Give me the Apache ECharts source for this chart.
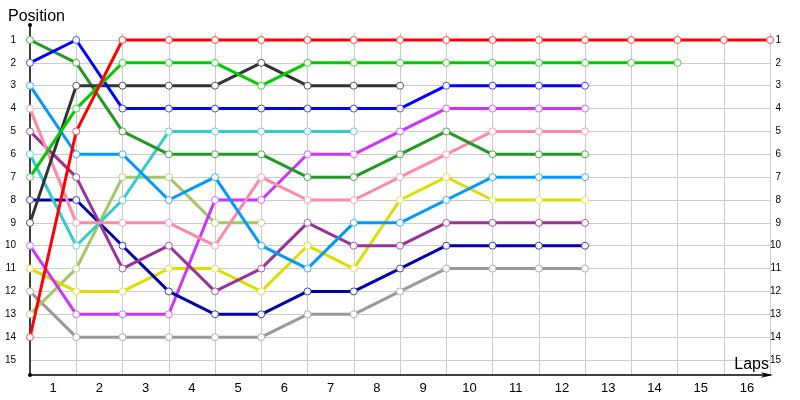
<!DOCTYPE html>
<html>
<head>
<meta charset="utf-8">
<script src="https://cdn.jsdelivr.net/npm/echarts@6/dist/echarts.min.js"></script>
<style>
  html, body { margin: 0; padding: 0; background: #fff; }
  #chart { width: 800px; height: 400px; }
</style>
</head>
<body>
<div id="chart"></div>
<script>
// position of each driver after every lap (index = lap, 0 = grid)
var red        = [14, 5, 1, 1, 1, 1, 1, 1, 1, 1, 1, 1, 1, 1, 1, 1, 1];
var green      = [7, 4, 2, 2, 2, 3, 2, 2, 2, 2, 2, 2, 2, 2, 2];
var blue       = [2, 1, 4, 4, 4, 4, 4, 4, 4, 3, 3, 3, 3];
var black      = [9, 3, 3, 3, 3, 2, 3, 3, 3];
var darkGreen  = [1, 2, 5, 6, 6, 6, 7, 7, 6, 5, 6, 6, 6];
var lightBlue  = [3, 6, 6, 8, 7, 10, 11, 9, 9, 8, 7, 7, 7];
var pink       = [4, 9, 9, 9, 10, 7, 8, 8, 7, 6, 5, 5, 5];
var cyan       = [6, 10, 8, 5, 5, 5, 5, 5];
var purple     = [5, 7, 11, 10, 12, 11, 9, 10, 10, 9, 9, 9, 9];
var navy       = [8, 8, 10, 12, 13, 13, 12, 12, 11, 10, 10, 10, 10];
var violet     = [10, 13, 13, 13, 8, 8, 6, 6, 5, 4, 4, 4, 4];
var yellow     = [11, 12, 12, 11, 11, 12, 10, 11, 8, 7, 8, 8, 8];
var lightGreen = [13, 11, 7, 7, 9, 9];
var gray       = [12, 14, 14, 14, 14, 14, 13, 13, 12, 11, 11, 11, 11];

var lapLabels = ['1','2','3','4','5','6','7','8','9','10','11','12','13','14','15','16'];

var drivers = [
  { d: gray,       c: '#999999', b: '#b0b0b0' },
  { d: lightGreen, c: '#a0c864', b: '#b4d47e' },
  { d: yellow,     c: '#dddd00', b: '#e6e640' },
  { d: violet,     c: '#cc33ff', b: '#d966ff' },
  { d: navy,       c: '#0000aa', b: '#4040c8' },
  { d: purple,     c: '#993399', b: '#aa55aa' },
  { d: cyan,       c: '#33cccc', b: '#5cd6d6' },
  { d: pink,       c: '#ff88aa', b: '#ff9fbb' },
  { d: lightBlue,  c: '#0099ff', b: '#40b0ff' },
  { d: darkGreen,  c: '#229922', b: '#4aab4a' },
  { d: black,      c: '#333333', b: '#555555' },
  { d: blue,       c: '#0000ff', b: '#4848ff' },
  { d: green,      c: '#00cc00', b: '#40d840' },
  { d: red,        c: '#ff0000', b: '#ff4848' }
];

var chart = echarts.init(document.getElementById('chart'));

var series = drivers.map(function (dr) {
  return {
    type: 'line',
    xAxisIndex: 0,
    yAxisIndex: 0,
    data: dr.d.map(function (p, lap) { return [lap, p]; }),
    symbol: 'circle',
    symbolSize: 7,
    animation: false,
    lineStyle: { color: dr.c, width: 3 },
    itemStyle: { color: '#ffffff', borderColor: dr.b, borderWidth: 1 }
  };
});

var font = 'Liberation Sans';
var posLabel = function (v) { return (v < 1 || v > 15) ? '' : String(v); };

var option = {
  backgroundColor: '#ffffff',
  animation: false,
  title: [
    { text: 'Position', left: 3, top: 4, textStyle: { fontFamily: font, fontSize: 16, fontWeight: 'normal', color: '#000' } },
    { text: 'Laps', right: 26, top: 352, textStyle: { fontFamily: font, fontSize: 16, fontWeight: 'normal', color: '#000' } }
  ],
  grid: [
    { left: 30, right: 30, top: 17.14, bottom: 17.14 },   // data
    { left: 30, right: 30, top: 33, bottom: 25 },         // vertical grid lines, lap labels
    { left: 30, right: 30, top: 25, bottom: 25 }          // axis lines
  ],
  xAxis: [
    {
      gridIndex: 0, type: 'value', min: 0, max: 16, interval: 1, position: 'bottom',
      axisLine: { show: false }, axisTick: { show: false }, axisLabel: { show: false }, splitLine: { show: false }
    },
    {
      gridIndex: 1, type: 'value', min: 0, max: 16, interval: 1, position: 'bottom',
      axisLine: { show: false, onZero: false }, axisTick: { show: false }, axisLabel: { show: false },
      splitLine: { show: true, showMinLine: false, lineStyle: { color: '#cccccc', width: 1 } }
    },
    {
      gridIndex: 1, type: 'category', data: lapLabels, boundaryGap: true, position: 'bottom',
      axisLine: { show: false, onZero: false }, axisTick: { show: false }, splitLine: { show: false },
      axisLabel: { margin: 7, fontFamily: font, fontSize: 13, color: '#000' }
    },
    {
      gridIndex: 2, type: 'value', min: 0, max: 16, position: 'bottom',
      axisLine: {
        show: true, onZero: false,
        symbol: ['circle', 'arrow'], symbolSize: [4, 12], symbolOffset: [0, 3],
        lineStyle: { color: '#000', width: 1.5 }
      },
      axisTick: { show: false }, axisLabel: { show: false }, splitLine: { show: false }
    }
  ],
  yAxis: [
    {
      gridIndex: 0, type: 'value', inverse: true, min: 0, max: 16, interval: 1, position: 'left',
      axisLine: { show: false }, axisTick: { show: false },
      axisLabel: { margin: 14, fontFamily: font, fontSize: 10, color: '#000', formatter: posLabel },
      splitLine: { show: true, showMinLine: false, showMaxLine: false, lineStyle: { color: '#cccccc', width: 1 } }
    },
    {
      gridIndex: 0, type: 'value', inverse: true, min: 0, max: 16, interval: 1, position: 'right',
      axisLine: { show: false }, axisTick: { show: false }, splitLine: { show: false },
      axisLabel: { margin: 11, align: 'right', fontFamily: font, fontSize: 10, color: '#000', formatter: posLabel }
    },
    { gridIndex: 1, type: 'value', show: false, min: 0, max: 1 },
    {
      gridIndex: 2, type: 'value', min: 0, max: 1, position: 'left',
      axisLine: {
        show: true, onZero: false,
        symbol: ['none', 'circle'], symbolSize: [4, 4],
        lineStyle: { color: '#000', width: 1.5 }
      },
      axisTick: { show: false }, axisLabel: { show: false }, splitLine: { show: false }
    }
  ],
  series: series
};

chart.setOption(option);
</script>
</body>
</html>
